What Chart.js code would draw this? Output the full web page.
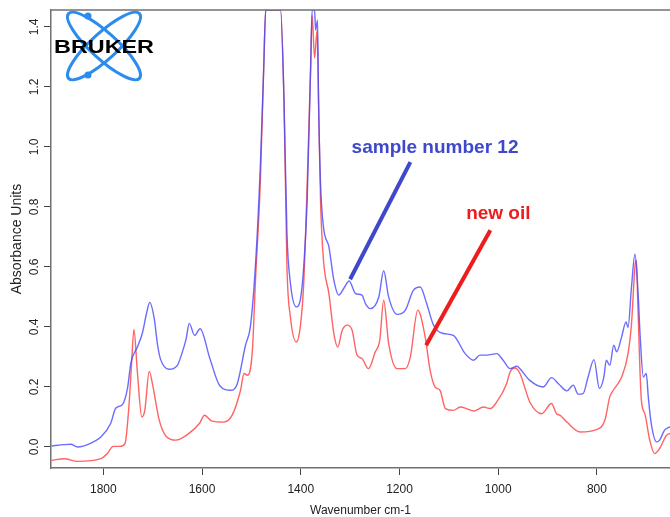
<!DOCTYPE html>
<html>
<head>
<meta charset="utf-8">
<title>Used oil vs new oil - IR spectrum</title>
<script src="https://cdn.jsdelivr.net/npm/chart.js@4.4.1/dist/chart.umd.min.js"></script>
<style>
  html, body { margin: 0; padding: 0; background: #fff; }
  #spectrum { display: block; }
</style>
</head>
<body>
<canvas id="spectrum" width="670" height="517"></canvas>
<script>
const sampleWave = [1905, 1879, 1866, 1852, 1825, 1805, 1785, 1775, 1761, 1751, 1744, 1731, 1721, 1712, 1706, 1697, 1690, 1684,
  1667, 1650, 1640, 1632, 1626, 1615, 1604, 1584, 1564, 1542, 1529, 1512, 1502, 1492, 1482, 1475, 1471, 1441, 1434, 1428,
  1421, 1409, 1401, 1394, 1387, 1380, 1377, 1372, 1370, 1366, 1364, 1360, 1354, 1343, 1333, 1323, 1313, 1302, 1289, 1276,
  1269, 1259, 1242, 1232, 1222, 1205, 1188, 1172, 1158, 1145, 1131, 1111, 1091, 1067, 1050, 1037, 1023, 1003, 990, 976,
  962, 956, 936, 909, 892, 878, 861, 848, 838, 828, 818, 806, 795, 786, 781, 774, 766, 760, 750, 741, 737, 730, 723, 717,
  712, 706, 700, 696, 690, 679, 673, 663, 652];
const sampleAbs = [0.003, 0.008, 0.009, 0.000, 0.013, 0.033, 0.079, 0.129, 0.142, 0.196, 0.282, 0.333, 0.379, 0.449, 0.482, 0.429, 0.339, 0.292,
  0.259, 0.272, 0.316, 0.362, 0.412, 0.372, 0.394, 0.294, 0.204, 0.189, 0.209, 0.339, 0.402, 0.600, 0.933, 1.267, 1.456, 1.456, 1.156, 0.712,
  0.546, 0.467, 0.489, 0.600, 0.822, 1.267, 1.456, 1.456, 1.389, 1.422, 1.156, 0.879, 0.733, 0.667, 0.556, 0.506, 0.528, 0.553, 0.511, 0.506,
  0.478, 0.461, 0.500, 0.587, 0.500, 0.442, 0.456, 0.522, 0.533, 0.478, 0.406, 0.378, 0.372, 0.311, 0.289, 0.306, 0.306, 0.311, 0.289, 0.261,
  0.269, 0.261, 0.222, 0.200, 0.231, 0.211, 0.187, 0.206, 0.176, 0.178, 0.233, 0.291, 0.195, 0.233, 0.289, 0.272, 0.339, 0.317, 0.367, 0.417, 0.398, 0.533, 0.642, 0.522,
  0.356, 0.233, 0.245, 0.167, 0.078, 0.017, 0.023, 0.056, 0.067];

const oilWave = [1905, 1879, 1852, 1805, 1792, 1780, 1766, 1756, 1748, 1743, 1738, 1731, 1722, 1716, 1707, 1700, 1687, 1673,
  1653, 1626, 1605, 1595, 1581, 1556, 1539, 1522, 1515, 1508, 1498, 1492, 1482, 1475, 1471, 1441, 1434, 1428, 1421, 1409,
  1401, 1394, 1387, 1380, 1377, 1372, 1367, 1364, 1360, 1354, 1343, 1333, 1325, 1316, 1306, 1296, 1286, 1276, 1263, 1249,
  1240, 1232, 1222, 1205, 1188, 1178, 1163, 1148, 1138, 1128, 1118, 1107, 1091, 1077, 1064, 1050, 1030, 1016, 1003, 983,
  976, 966, 956, 936, 912, 892, 882, 875, 861, 834, 801, 784, 774, 767, 750, 737, 730, 723, 720, 717, 710, 703, 693, 683,
  673, 659, 652];
const oilAbs = [-0.044, -0.039, -0.048, -0.039, -0.022, 0.002, 0.002, 0.012, 0.139, 0.272, 0.392, 0.249, 0.100, 0.122, 0.252, 0.206, 0.091, 0.036,
  0.023, 0.046, 0.079, 0.106, 0.087, 0.083, 0.106, 0.189, 0.245, 0.239, 0.322, 0.546, 0.879, 1.267, 1.456, 1.456, 1.156, 0.600, 0.433, 0.350,
  0.400, 0.546, 0.879, 1.267, 1.439, 1.296, 1.389, 1.156, 0.822, 0.622, 0.511, 0.378, 0.333, 0.389, 0.406, 0.389, 0.306, 0.295, 0.261, 0.317,
  0.356, 0.489, 0.345, 0.261, 0.261, 0.300, 0.456, 0.367, 0.256, 0.200, 0.189, 0.128, 0.122, 0.133, 0.128, 0.120, 0.133, 0.128, 0.150, 0.211,
  0.250, 0.263, 0.245, 0.150, 0.111, 0.145, 0.111, 0.106, 0.083, 0.050, 0.058, 0.089, 0.167, 0.189, 0.233, 0.311, 0.411, 0.600, 0.622, 0.467, 0.156, 0.111, 0.022, -0.022,
  -0.005, 0.039, 0.045];

const xTicks = [1800, 1600, 1400, 1200, 1000, 800];
const yTicks = [0, 0.2, 0.4, 0.6, 0.8, 1.0, 1.2, 1.4];
const seriesNames = ['sample number 12', 'new oil'];

// callouts: label anchor and pointer line, in wavenumber / absorbance
const callouts = [
  { text: seriesNames[0], color: '#3f48cc', at: [1297, 0.981], from: [1178, 0.949], to: [1300, 0.559] },
  { text: seriesNames[1], color: '#ee1c1c', at: [1065, 0.759], from: [1016, 0.722], to: [1146, 0.339] }
];

const toPoints = (xs, ys) => xs.map((x, i) => ({ x: x, y: ys[i] }));

const decorations = {
  id: 'decorations',
  afterDatasetsDraw(chart) {
    const { ctx, chartArea, scales } = chart;
    const x = scales.x, y = scales.y;
    ctx.save();

    // top edge of the plot box
    ctx.strokeStyle = '#707070';
    ctx.lineWidth = 1.5;
    ctx.beginPath();
    ctx.moveTo(chartArea.left, chartArea.top);
    ctx.lineTo(chartArea.right, chartArea.top);
    ctx.stroke();

    callouts.forEach(c => {
      ctx.strokeStyle = c.color;
      ctx.lineWidth = 4;
      ctx.beginPath();
      ctx.moveTo(x.getPixelForValue(c.from[0]), y.getPixelForValue(c.from[1]));
      ctx.lineTo(x.getPixelForValue(c.to[0]), y.getPixelForValue(c.to[1]));
      ctx.stroke();
      ctx.fillStyle = c.color;
      ctx.font = 'bold 19px "Liberation Sans", Arial, sans-serif';
      ctx.textBaseline = 'alphabetic';
      ctx.textAlign = 'left';
      ctx.fillText(c.text, x.getPixelForValue(c.at[0]), y.getPixelForValue(c.at[1]));
    });

    // Bruker logo
    ctx.strokeStyle = '#2b8cee';
    ctx.lineWidth = 3;
    [-0.74, 0.74].forEach(rot => {
      ctx.beginPath();
      ctx.ellipse(104, 46, 48, 13, rot, 0, Math.PI * 2);
      ctx.stroke();
    });
    ctx.fillStyle = '#2b8cee';
    [[88, 16], [88, 75]].forEach(p => {
      ctx.beginPath();
      ctx.arc(p[0], p[1], 3.5, 0, Math.PI * 2);
      ctx.fill();
    });
    ctx.fillStyle = '#000';
    ctx.font = 'bold 19px "Liberation Sans", Arial, sans-serif';
    const w = ctx.measureText('BRUKER').width;
    ctx.translate(54, 53);
    ctx.scale(100 / w, 1);
    ctx.fillText('BRUKER', 0, 0);

    ctx.restore();
  }
};

const ctx = document.getElementById('spectrum').getContext('2d');

const spectrumChart = new Chart(ctx, {
  type: 'line',
  data: {
    datasets: [
      {
        label: seriesNames[0],
        data: toPoints(sampleWave, sampleAbs),
        borderColor: 'rgba(70, 70, 255, 0.8)',
        borderWidth: 1.4,
        pointRadius: 0,
        fill: false,
        cubicInterpolationMode: 'monotone'
      },
      {
        label: seriesNames[1],
        data: toPoints(oilWave, oilAbs),
        borderColor: 'rgba(255, 60, 60, 0.8)',
        borderWidth: 1.4,
        pointRadius: 0,
        fill: false,
        cubicInterpolationMode: 'monotone'
      }
    ]
  },
  options: {
    responsive: false,
    animation: false,
    devicePixelRatio: 1,
    layout: { padding: { left: 5, top: 10, right: 0, bottom: 0 } },
    plugins: {
      legend: { display: false },
      tooltip: { enabled: false }
    },
    scales: {
      x: {
        type: 'linear',
        reverse: true,
        min: 652,
        max: 1906,
        afterBuildTicks: scale => { scale.ticks = xTicks.map(v => ({ value: v })); },
        afterFit: scale => { scale.height = 49; },
        grid: { drawOnChartArea: false, drawTicks: true, tickLength: 7, color: '#444' },
        border: { display: true, color: '#707070', width: 1.5 },
        ticks: {
          color: '#222',
          padding: 7,
          maxRotation: 0,
          font: { family: '"Liberation Sans", Arial, sans-serif', size: 12 },
          callback: v => String(v)
        },
        title: {
          display: true,
          text: 'Wavenumber cm-1',
          color: '#222',
          padding: { top: 0, bottom: -1 },
          font: { family: '"Liberation Sans", Arial, sans-serif', size: 12 }
        }
      },
      y: {
        min: -0.07,
        max: 1.456,
        afterBuildTicks: scale => { scale.ticks = yTicks.map(v => ({ value: v })); },
        afterFit: scale => { scale.width = 46; },
        grid: { drawOnChartArea: false, drawTicks: true, tickLength: 7, color: '#444' },
        border: { display: true, color: '#707070', width: 1.5 },
        ticks: {
          color: '#222',
          padding: 1,
          minRotation: 90,
          maxRotation: 90,
          crossAlign: 'center',
          font: { family: '"Liberation Sans", Arial, sans-serif', size: 12 },
          callback: v => v.toFixed(1)
        },
        title: {
          display: true,
          text: 'Absorbance Units',
          color: '#222',
          padding: { top: 4, bottom: 0 },
          font: { family: '"Liberation Sans", Arial, sans-serif', size: 14 }
        }
      }
    }
  },
  plugins: [decorations]
});
</script>
</body>
</html>
